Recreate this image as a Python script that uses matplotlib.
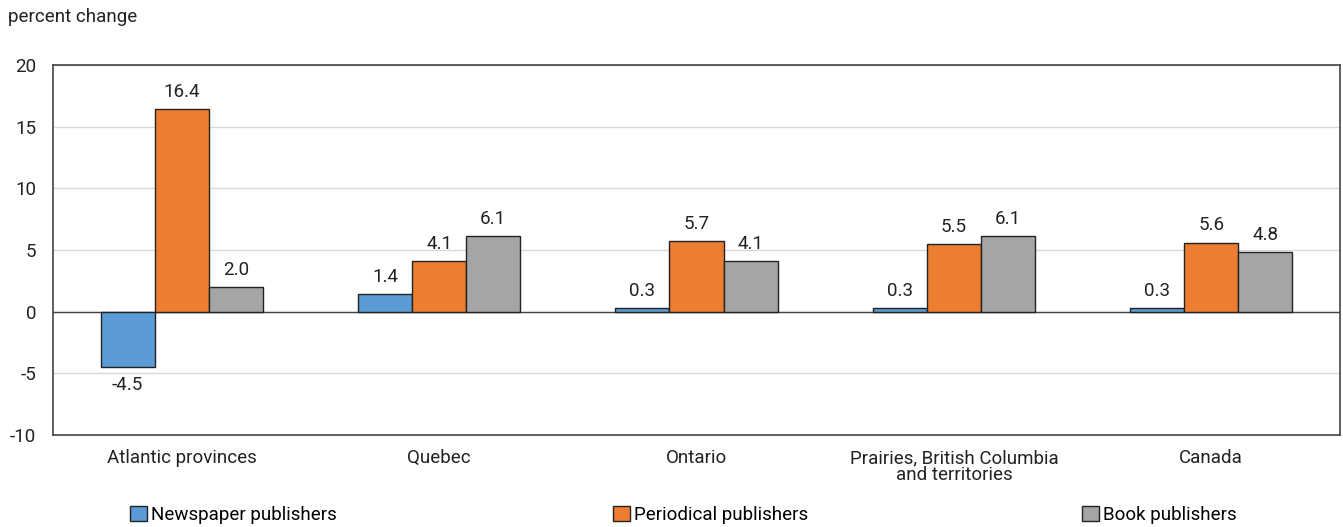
import numpy as np
import matplotlib.pyplot as plt
from matplotlib.patches import Patch

plt.rcParams['font.family'] = ['Roboto', 'DejaVu Sans']
plt.rcParams['font.size'] = 13.5
plt.rcParams['axes.unicode_minus'] = False

regions = ['Atlantic provinces', 'Quebec', 'Ontario',
           'Prairies, British Columbia\nand territories', 'Canada']
series = ['Newspaper publishers', 'Periodical publishers', 'Book publishers']
newspaper = [-4.5, 1.4, 0.3, 0.3, 0.3]
periodical = [16.4, 4.1, 5.7, 5.5, 5.6]
book = [2.0, 6.1, 4.1, 6.1, 4.8]
colors = ['#5B9BD5', '#ED7D31', '#A5A5A5']

fig = plt.figure(figsize=(13.43, 5.27), dpi=100)
ax = fig.add_axes([53 / 1343, 1 - 435 / 527, 1287 / 1343, 370 / 527])

x = np.arange(len(regions))
w = 0.21
for i, (vals, c) in enumerate(zip([newspaper, periodical, book], colors)):
    pos = x + (i - 1) * w
    ax.bar(pos, vals, w, color=c, edgecolor='#222222', linewidth=1.0, zorder=3)
    for p, v in zip(pos, vals):
        if v >= 0:
            ax.annotate(f'{v:.1f}', (p, v), xytext=(0, 6), textcoords='offset points',
                        ha='center', va='bottom', color='#222222')
        else:
            ax.annotate(f'{v:.1f}', (p, v), xytext=(0, -6), textcoords='offset points',
                        ha='center', va='top', color='#222222')

ax.set_xlim(-0.5, len(regions) - 0.5)
ax.set_ylim(-10, 20)
ax.set_yticks(range(-10, 21, 5))
ax.set_xticks(x)
ax.set_xticklabels(regions, linespacing=0.95)
ax.tick_params(length=0, colors='#222222', pad=10)
ax.tick_params(axis='y', pad=12)
ax.grid(axis='y', color='#d9d9d9', linewidth=1, zorder=0)
ax.axhline(0, color='#444444', linewidth=1, zorder=2)
for s in ax.spines.values():
    s.set_color('#444444')
    s.set_linewidth(1.2)

fig.text(8 / 1343, 1 - 17 / 527, 'percent change', ha='left', va='center',
         color='#222222')

# legend entries spread across the bottom
for name, c, lx in zip(series, colors, [130, 613, 1082]):
    fig.legend([Patch(facecolor=c, edgecolor='#222222')], [name], loc='center left',
               frameon=False, bbox_to_anchor=(lx / 1343, 1 - 515 / 527),
               handlelength=0.9, handleheight=0.9, handletextpad=0.2,
               borderaxespad=0, borderpad=0)

fig.savefig('out.png', dpi=100)
